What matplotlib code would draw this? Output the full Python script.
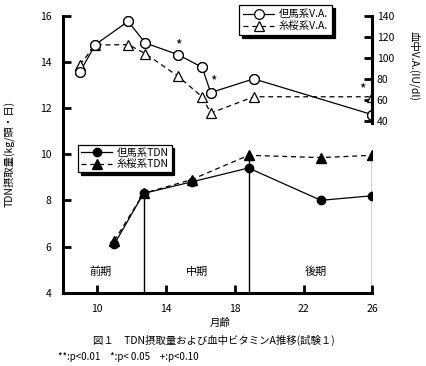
import matplotlib
matplotlib.use("Agg")
import matplotlib.pyplot as plt
import numpy as np

plt.rcParams['font.family'] = ['Noto Sans CJK JP', 'DejaVu Sans']

# V.A. series (right axis)
va_month = [9.0, 9.9, 11.8, 12.8, 14.7, 16.1, 16.6, 19.1, 26.0]
va_tajima = [86.5, 112.5, 134.5, 114, 103, 91, 67, 80, 46]
va_itozakura = [93.5, 112, 112.5, 104, 82.5, 63, 47.5, 63, 63]

# TDN series (left axis)
tdn_month = [11.0, 12.7, 15.5, 18.8, 23.0, 26.0]
tdn_tajima = [6.1, 8.3, 8.8, 9.4, 8.0, 8.2]
tdn_itozakura = [6.25, 8.3, 8.9, 9.95, 9.85, 9.95]

left_ticks = [4, 6, 8, 10, 12, 14, 16]
right_ticks = [40, 60, 80, 100, 120, 140]
x_ticks = [10, 14, 18, 22, 26]
periods = ["前期", "中期", "後期"]
period_x = [10.2, 15.8, 22.7]

fig = plt.figure(figsize=(4.27, 3.66), dpi=100)
ax = fig.add_axes([0.1468, 0.2003, 0.7255, 0.7571])
ax2 = ax.twinx()

fs = 7.5
ax.set_xlim(8, 26)
ax.set_ylim(4, 16)
ax2.set_ylim(-122.8, 140)

for a in (ax, ax2):
    a.spines['top'].set_visible(False)
ax.spines['right'].set_visible(False)
ax2.spines['left'].set_visible(False)
ax2.spines['bottom'].set_visible(False)
ax2.spines['right'].set_bounds(38, 140)
for s in ('left', 'bottom'):
    ax.spines[s].set_linewidth(2.2)
ax2.spines['right'].set_linewidth(2.2)

ax.set_xticks(x_ticks)
ax.set_yticks(left_ticks)
ax2.set_yticks(right_ticks)
ax.tick_params(direction='in', length=6, width=2, labelsize=fs, pad=8)
ax2.tick_params(direction='in', length=6, width=2, labelsize=fs, pad=3)

# V.A. lines
l1, = ax2.plot(va_month, va_tajima, '-', color='black', lw=0.9, marker='o',
               ms=7, mfc='white', mec='black', mew=0.9, label='但馬系V.A.')
l2, = ax2.plot(va_month, va_itozakura, '--', color='black', lw=0.9, marker='^',
               ms=7.5, mfc='white', mec='black', mew=0.9, label='糸桜系V.A.',
               dashes=(4, 3))
ax2.plot(va_month, va_tajima, 'o', ms=7, mfc='white', mec='black', mew=0.9)

# TDN lines
l3, = ax.plot(tdn_month, tdn_tajima, '-', color='black', lw=0.9, marker='o',
              ms=6, mfc='black', mec='black', label='但馬系TDN')
l4, = ax.plot(tdn_month, tdn_itozakura, '--', color='black', lw=0.9, marker='^',
              ms=6.5, mfc='black', mec='black', label='糸桜系TDN', dashes=(4, 3))

# period dividers
for i in (1, 3, 5):
    top = max(tdn_tajima[i], tdn_itozakura[i])
    ax.plot([tdn_month[i], tdn_month[i]], [4, top], color='black', lw=1.0, zorder=1)

for t, x in zip(periods, period_x):
    ax.text(x, 4.9, t, ha='center', va='center', fontsize=fs + 0.5)

# significance marks
ax2.text(va_month[4], 112, '*', ha='center', va='center', fontsize=10)
ax2.text(va_month[6] + 0.15, 78, '*', ha='center', va='center', fontsize=10)
ax2.text(va_month[8] - 0.6, 70, '*', ha='center', va='center', fontsize=10)

fig.text(220 / 427, 1 - 323 / 366, '月齢', ha='center', va='center', fontsize=fs)
ax.set_ylabel('TDN摂取量(kg/頭・日)', fontsize=fs, labelpad=18)
ax2.set_ylabel('血中V.A.(IU/dl)', fontsize=fs, rotation=-90, labelpad=12)
ax2.yaxis.set_label_coords(1.155, 0.82)

leg1 = fig.legend(handles=[l1, l2], loc='upper left',
                  bbox_to_anchor=(239 / 427, 1 - 5 / 366), fontsize=fs,
                  frameon=True, fancybox=False, edgecolor='black',
                  framealpha=1, shadow={'color': 'black', 'alpha': 1},
                  handlelength=3, borderpad=0.4, labelspacing=0.2,
                  handletextpad=0.4, borderaxespad=0)
leg1.get_frame().set_linewidth(0.9)
leg2 = fig.legend(handles=[l3, l4], loc='upper left',
                  bbox_to_anchor=(78 / 427, 1 - 145 / 366), fontsize=fs,
                  frameon=True, fancybox=False, edgecolor='black',
                  framealpha=1, shadow={'color': 'black', 'alpha': 1},
                  handlelength=3, borderpad=0.3, labelspacing=0.1,
                  handletextpad=0.4, borderaxespad=0)
leg2.get_frame().set_linewidth(0.9)

fig.text(0.5, 1 - 340 / 366, '図１　TDN摂取量および血中ビタミンA推移(試験１)',
         ha='center', va='center', fontsize=fs)
fig.text(58 / 427, 1 - 357 / 366, '**:p<0.01　*:p< 0.05　+:p<0.10',
         ha='left', va='center', fontsize=fs - 0.5)

fig.savefig('out.png', dpi=100)
